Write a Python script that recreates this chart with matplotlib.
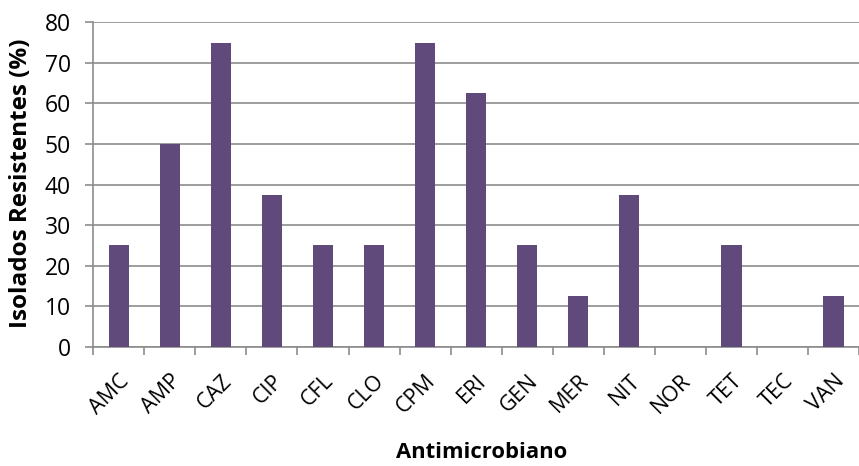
import numpy as np
import matplotlib.pyplot as plt

# antimicrobial resistance data
categories = ['AMC', 'AMP', 'CAZ', 'CIP', 'CFL', 'CLO', 'CPM', 'ERI',
              'GEN', 'MER', 'NIT', 'NOR', 'TET', 'TEC', 'VAN']
resistant_pct = [25, 50, 75, 37.5, 25, 25, 75, 62.5,
                 25, 12.5, 37.5, 0, 25, 0, 12.5]

plt.rcParams['font.family'] = ['Open Sans', 'DejaVu Sans']

W, H = 859, 466
fig = plt.figure(figsize=(W / 100, H / 100), dpi=100)
ax = fig.add_axes([93.3 / W, (H - 346.7) / H, (859 - 93.3) / W, (346.7 - 22.3) / H])

x = np.arange(len(categories))
ax.bar(x, resistant_pct, width=0.4, color='#604A7B', zorder=3)

ax.set_ylim(0, 80)
ax.set_yticks(range(0, 81, 10))
step = 51.67
ax.set_xlim(-0.5, len(categories) - 0.5 - (868.3 - 859) / step)

gray = '#8c8c8c'
ax.yaxis.grid(True, color=gray, linewidth=1.2, zorder=0)
for s in ['top', 'right']:
    ax.spines[s].set_visible(False)
for s in ['left', 'bottom']:
    ax.spines[s].set_color(gray)
    ax.spines[s].set_linewidth(1.2)

# ticks between categories on x, labels at centers
ax.set_xticks(np.arange(len(categories) + 1) - 0.5)
ax.set_xticklabels([])
ax.set_xticks(x, minor=True)
ax.set_xticklabels(categories, minor=True, rotation=45, ha='right',
                   rotation_mode='anchor', fontsize=15.5)
ax.tick_params(axis='x', which='minor', length=0, pad=17)
ax.tick_params(axis='x', which='major', length=6, width=1.2, color=gray)
ax.tick_params(axis='y', length=6, width=1.2, color=gray, labelsize=16.5, pad=10)

fig.text(21 / W, 1 - 183 / H, 'Isolados Resistentes (%)', fontsize=17.5,
         fontweight='bold', rotation=90, ha='center', va='center')
fig.text(482 / W, 1 - 453 / H, 'Antimicrobiano', fontsize=15.8, fontweight='bold',
         ha='center', va='center')

fig.savefig('out.png', dpi=100)
